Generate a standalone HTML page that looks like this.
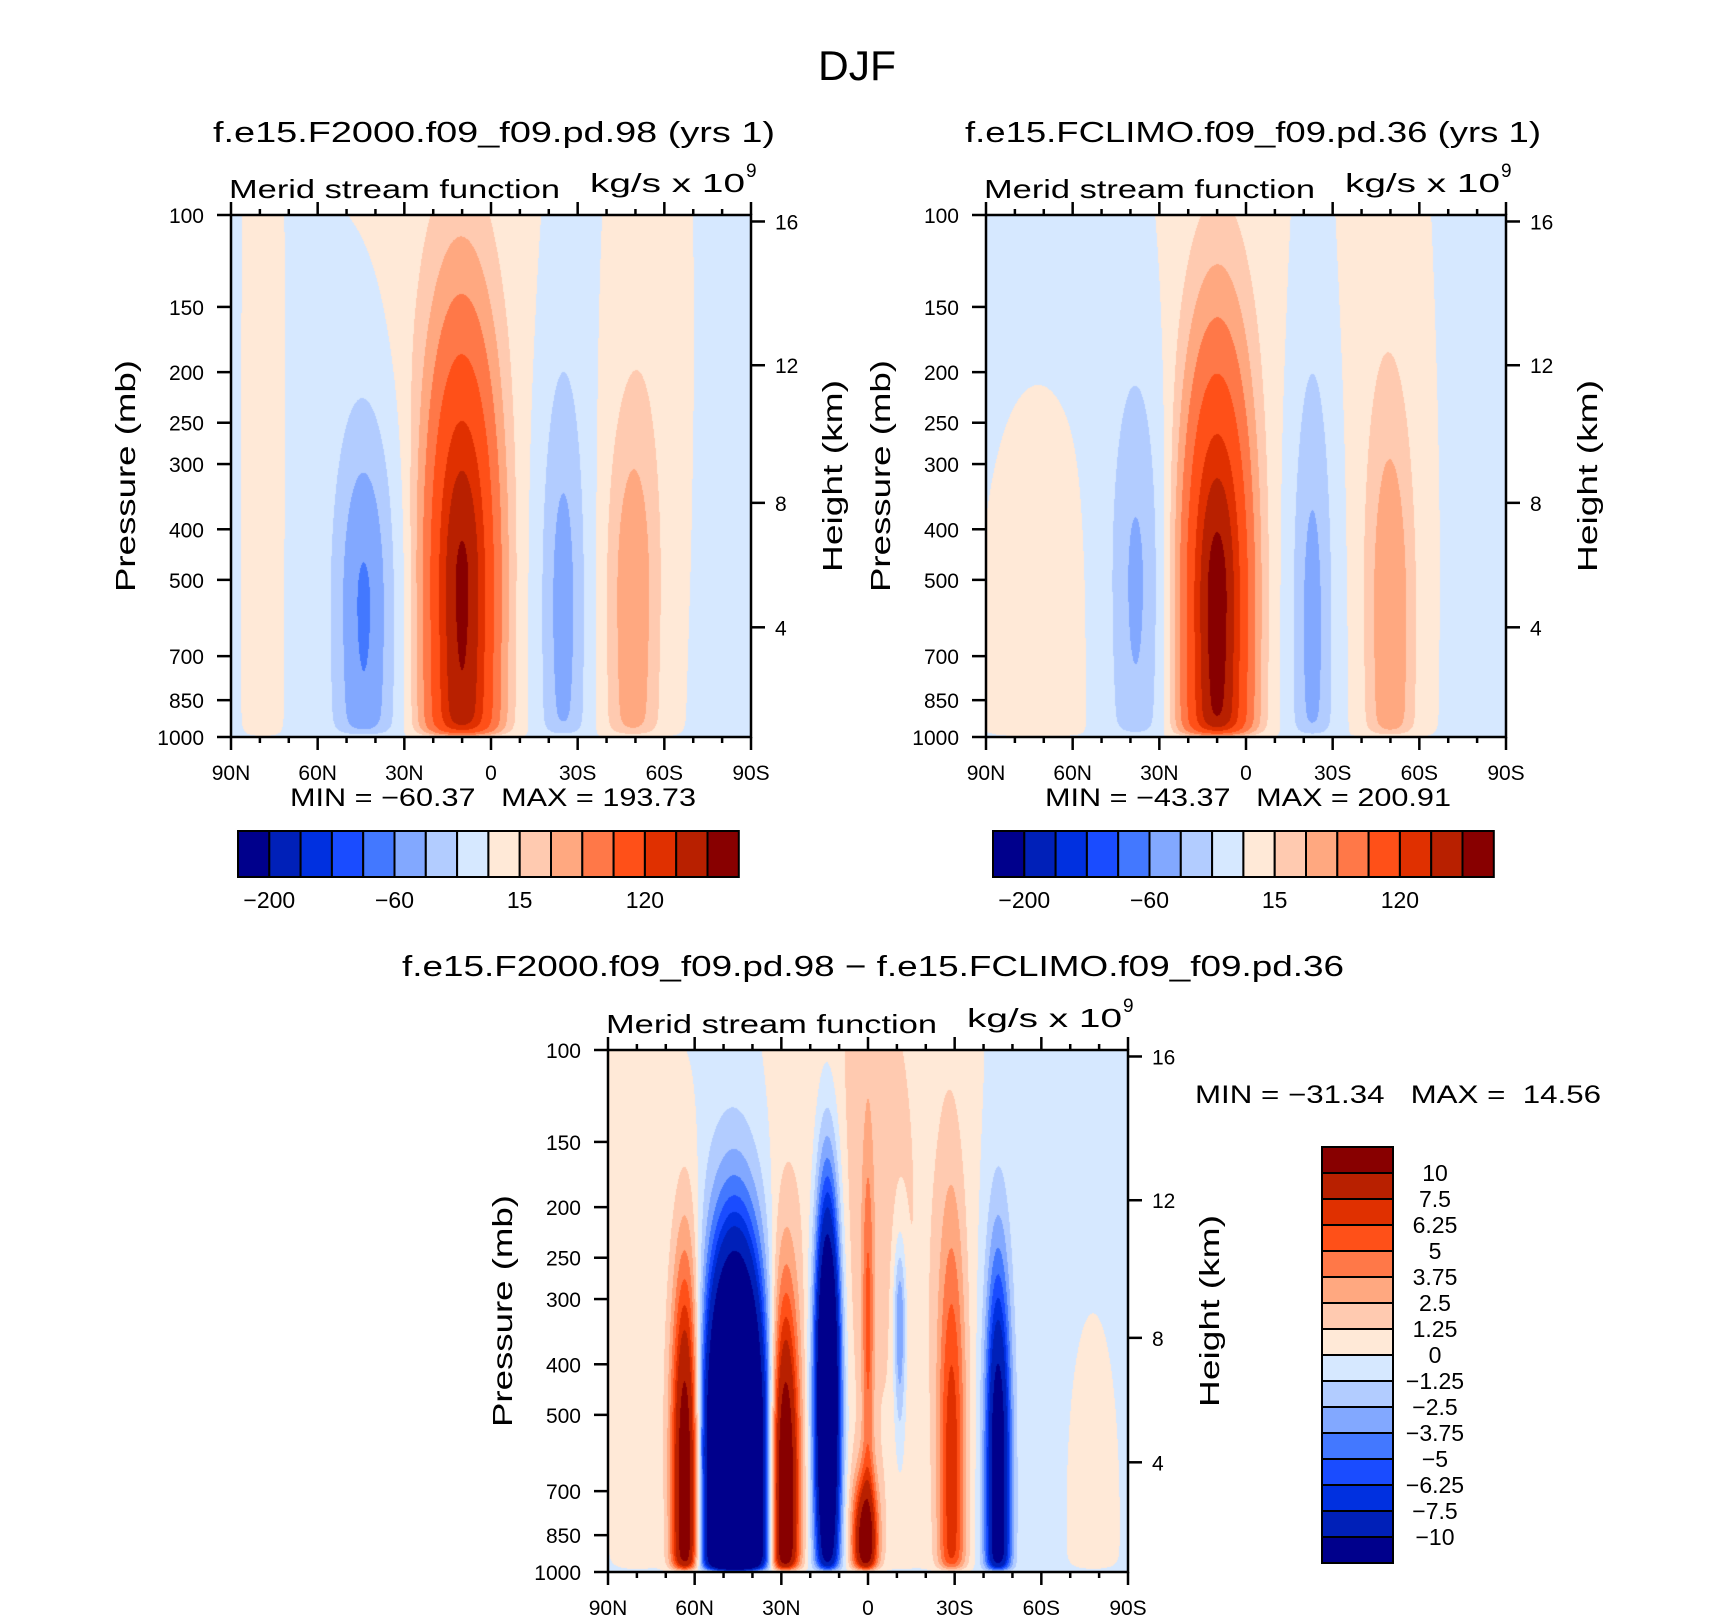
<!DOCTYPE html>
<html><head><meta charset="utf-8"><style>
html,body{margin:0;padding:0;background:#fff;}
#wrap{position:relative;width:1710px;height:1620px;overflow:hidden;background:#fff;}
canvas{position:absolute;}
svg{position:absolute;left:0;top:0;}
text{font-family:"Liberation Sans",sans-serif;fill:#000;}
</style></head><body>
<div id="wrap">
<canvas id="c1" width="520" height="522" style="left:231px;top:215px"></canvas>
<canvas id="c2" width="520" height="522" style="left:986px;top:215px"></canvas>
<canvas id="c3" width="520" height="522" style="left:608px;top:1050px"></canvas>
<svg id="svg" width="1710" height="1620" xmlns="http://www.w3.org/2000/svg">
<text x="857" y="80" font-size="42" text-anchor="middle" textLength="78" lengthAdjust="spacingAndGlyphs">DJF</text>
<text x="494" y="142" font-size="29" text-anchor="middle" textLength="562" lengthAdjust="spacingAndGlyphs">f.e15.F2000.f09_f09.pd.98 (yrs 1)</text>
<text x="1253" y="142" font-size="29" text-anchor="middle" textLength="576" lengthAdjust="spacingAndGlyphs">f.e15.FCLIMO.f09_f09.pd.36 (yrs 1)</text>
<text x="873" y="976" font-size="29" text-anchor="middle" textLength="942" lengthAdjust="spacingAndGlyphs">f.e15.F2000.f09_f09.pd.98 − f.e15.FCLIMO.f09_f09.pd.36</text>
<text x="290" y="806" font-size="25" textLength="406" lengthAdjust="spacingAndGlyphs" style="white-space:pre">MIN = −60.37   MAX = 193.73</text>
<text x="1045" y="806" font-size="25" textLength="406" lengthAdjust="spacingAndGlyphs" style="white-space:pre">MIN = −43.37   MAX = 200.91</text>
<text x="1195" y="1103" font-size="25" textLength="406" lengthAdjust="spacingAndGlyphs" style="white-space:pre">MIN = −31.34   MAX =  14.56</text>
</svg>
</div>
<script>
// ---- data: field components [lat, centerPressure, amplitude, sigmaLat, sigmaLnP_up, sigmaLnP_down]
const blobsF2000 = [
  [10, 520, 186, 8.5, 0.75, 1.5],
  [44, 550, -62, 7.5, 0.62, 1.0],
  [-25, 550, -48, 5.5, 0.77, 1.0],
  [-49, 550, 42, 6.5, 0.63, 1.2],
  [15, 150, 10, 20, 1.0, 0.6],
  [79, 400, 6, 4, 2, 2],
  [-55, 150, 6, 8, 1, 1]
];
const blobsFCLIMO = [
  [10, 550, 196, 8, 0.72, 1.5],
  [38, 500, -43, 6.5, 0.7, 0.9],
  [-23, 600, -47, 5, 0.85, 1.0],
  [-50, 600, 45, 6, 0.7, 1.2],
  [72, 650, 8, 10, 0.55, 3],
  [8, 150, 8, 16, 1.0, 0.6],
  [-45, 150, 6, 10, 1, 1]
];
const blobsDiff = [
  [63, 650, 14, 3.5, 0.65, 1.5],
  [46, 600, -31, 7, 0.6, 2],
  [29, 700, 15, 3.5, 0.6, 1.5],
  [14, 450, -22, 3, 0.6, 0.7],
  [1, 880, 12, 3, 0.2, 0.3],
  [0, 350, 4, 1.5, 0.6, 0.6],
  [-11, 330, -5, 1.5, 0.25, 0.35],
  [-29, 650, 7, 3.5, 0.8, 1.5],
  [-45, 620, -13, 3, 0.6, 1.5],
  [80, 300, 1.5, 7, 2, 1],
  [0, 200, 2, 22, 1.5, 1.2],
  [-78, 800, 0.7, 7, 0.7, 2]
];
const baseF2000 = -1, baseFCLIMO = -1, baseDiff = -0.3;
const levelsMain = [-200,-160,-120,-80,-60,-40,-20,0,15,30,50,80,120,150,180];
const levelsDiff = [-10,-7.5,-6.25,-5,-3.75,-2.5,-1.25,0,1.25,2.5,3.75,5,6.25,7.5,10];
const mainLabels = ["-200","-60","15","120"];
const mainLabelIdx = [1,5,9,13];
const diffLabels = ["10","7.5","6.25","5","3.75","2.5","1.25","0","−1.25","−2.5","−3.75","−5","−6.25","−7.5","−10"];
const palette = ['#00008c','#0020b8','#0030e0','#1a4cff','#4378ff','#82a8ff','#b2ccff','#d6e8ff','#ffe9d7','#ffcab0','#ffa880','#ff7848','#ff5018','#e03000','#b82000','#880000'];
const latTicks = [90,60,30,0,-30,-60,-90];
const latTickLabels = ["90N","60N","30N","0","30S","60S","90S"];
const presTicks = [100,150,200,250,300,400,500,700,850,1000];
const kmTicks = [4,8,12,16];
const kmPres = [616.4,356.0,194.0,102.9];

const W=520,H=522;
function hexRGB(h){return [parseInt(h.substr(1,2),16),parseInt(h.substr(3,2),16),parseInt(h.substr(5,2),16)];}
const palRGB = palette.map(hexRGB);
function xOfLat(lat){return (90-lat)/180*W;}
function yOfP(p){return Math.log10(p/100)*H;}
function field(blobs, base, lat, p){
  let s=0; const lp=Math.log(p);
  for(const b of blobs){
    const dl=(lat-b[0])/b[3];
    const dp=lp-Math.log(b[1]);
    const sp=dp<0?b[4]:b[5];
    const e=dl*dl+(dp/sp)*(dp/sp);
    if(e<30) s+=b[2]*Math.exp(-0.5*e);
  }
  const taper=1-Math.exp(-Math.log(1000/p)/0.025);
  return s*taper+base;
}
function levelIndex(v,levels){let k=0;for(const l of levels){if(v>=l)k++;}return k;}
function drawField(id,blobs,base,levels){
  const c=document.getElementById(id),ctx=c.getContext('2d');
  const img=ctx.createImageData(W,H);
  for(let j=0;j<H;j++){
    const p=100*Math.pow(10,(j+0.5)/H);
    for(let i=0;i<W;i++){
      const lat=90-180*(i+0.5)/W;
      const k=levelIndex(field(blobs,base,lat,p),levels);
      const col=palRGB[k],o=(j*W+i)*4;
      img.data[o]=col[0];img.data[o+1]=col[1];img.data[o+2]=col[2];img.data[o+3]=255;
    }
  }
  ctx.putImageData(img,0,0);
}
drawField('c1',blobsF2000,baseF2000,levelsMain);
drawField('c2',blobsFCLIMO,baseFCLIMO,levelsMain);
drawField('c3',blobsDiff,baseDiff,levelsDiff);

const svg=document.getElementById('svg');
const NS='http://www.w3.org/2000/svg';
function mk(tag,attrs,parent){const e=document.createElementNS(NS,tag);for(const k in attrs)e.setAttribute(k,attrs[k]);(parent||svg).appendChild(e);return e;}
function txt(x,y,s,size,anchor,parent){const t=mk('text',{x:x,y:y,'font-size':size,'text-anchor':anchor||'middle'},parent);t.textContent=s;return t;}

function axes(L,T,name){
  const g=mk('g',{});
  
  
  const st={stroke:'#000','stroke-width':2.5,fill:'none'};
  const fr=mk('rect',Object.assign({x:L,y:T,width:W,height:H},st),g);
  
  
  for(let lat=90;lat>=-90;lat-=10){
    const x=L+xOfLat(lat);const major=lat%30===0;const len=major?13:6;
    mk('line',{x1:x,y1:T+H,x2:x,y2:T+H+len,stroke:'#000','stroke-width':2.5},g);
    mk('line',{x1:x,y1:T,x2:x,y2:T-len,stroke:'#000','stroke-width':2.5},g);
  }
  latTicks.forEach((lat,i)=>{
    const t=txt(L+xOfLat(lat),T+H+43,latTickLabels[i],21,'middle',g);
    
    
  });
  presTicks.forEach(p=>{
    const y=T+yOfP(p);
    mk('line',{x1:L-14,y1:y,x2:L,y2:y,stroke:'#000','stroke-width':2.5},g);
    const t=txt(L-27,y+8,String(p),21,'end',g);
    
    
  });
  kmTicks.forEach((k,i)=>{
    const y=T+yOfP(kmPres[i]);
    mk('line',{x1:L+W,y1:y,x2:L+W+14,y2:y,stroke:'#000','stroke-width':2.5},g);
    const t=txt(L+W+24,y+8,String(k),21,'start',g);
    
    
  });
  const cy=T+H/2;
  const yt=mk('text',{x:L-106,y:cy,'font-size':28,'text-anchor':'middle',transform:'rotate(-90 '+(L-106)+' '+cy+')',dy:10,textLength:232,lengthAdjust:'spacingAndGlyphs'},g);
  yt.textContent='Pressure (mb)';
  
  
  const ht=mk('text',{x:L+W+81,y:cy,'font-size':28,'text-anchor':'middle',transform:'rotate(-90 '+(L+W+81)+' '+cy+')',dy:10,textLength:192,lengthAdjust:'spacingAndGlyphs'},g);
  ht.textContent='Height (km)';
  
  
  const m=mk('text',{x:L-2,y:T-17,'font-size':26,'text-anchor':'start',textLength:331,lengthAdjust:'spacingAndGlyphs'},g);
  m.textContent='Merid stream function';
  
  
  const u=mk('text',{x:L+359,y:T-23,'font-size':26,'text-anchor':'start',textLength:155,lengthAdjust:'spacingAndGlyphs'},g);
  u.textContent='kg/s x 10';
  
  
  const sup=txt(L+515,T-38,'9',19,'start',g);
  
  
}
axes(231,215,'f2000');
axes(986,215,'fclimo');
axes(608,1050,'difference');

function hbar(L,T,name){
  const g=mk('g',{});
  
  
  const bw=31.3,bh=46;
  palette.forEach((c,i)=>{
    const r=mk('rect',{x:L+i*bw,y:T,width:bw,height:bh,fill:c,stroke:'#000','stroke-width':2},g);
    
    
  });
  mainLabels.forEach((s,i)=>{
    const t=txt(L+mainLabelIdx[i]*bw,T+77,s.replace('-','−'),23,'middle',g);
    
    
  });
}
hbar(238,831,'left-colorbar');
hbar(993,831,'right-colorbar');

(function(){
  const g=mk('g',{});
  
  
  const L=1322,T=1147,bw=71,bh=26;
  for(let i=0;i<16;i++){
    const r=mk('rect',{x:L,y:T+i*bh,width:bw,height:bh,fill:palette[15-i],stroke:'#000','stroke-width':2},g);
    
    
  }
  diffLabels.forEach((s,i)=>{
    const t=txt(1435,T+(i+1)*bh+8,s,23,'middle',g);
    
    
  });
})();
</script>
</body></html>
